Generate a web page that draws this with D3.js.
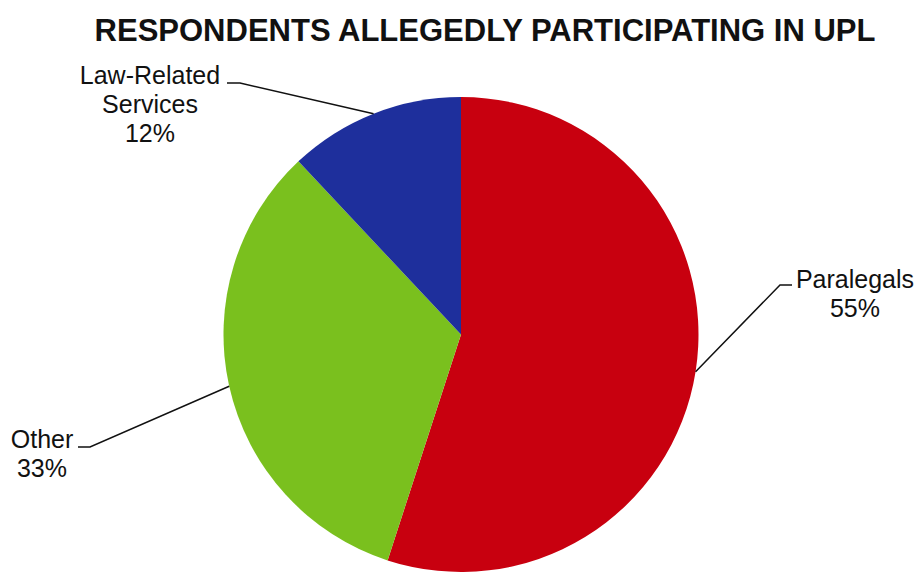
<!DOCTYPE html>
<html>
<head>
<meta charset="utf-8">
<script src="https://cdn.jsdelivr.net/npm/d3@7"></script>
<style>
  body { margin: 0; background: #fff; }
  text { font-family: Arial, "Liberation Sans", sans-serif; fill: #111; }
</style>
</head>
<body>
<svg id="chart" width="919" height="574"></svg>
<script>
// slice data, clockwise from 12 o'clock
const categories = ['Paralegals', 'Other', 'Law-Related Services'];
const values = [55, 33, 12];
const colors = ['#C8000F', '#7AC01E', '#1E2F9C'];
// label lines (text split by line)
const labelLines = [['Paralegals', '55%'], ['Other', '33%'], ['Law-Related', 'Services', '12%']];

const svg = d3.select('#chart');
const cx = 461, cy = 334.5, radius = 237.5;

svg.append('text')
    .attr('x', 485)
    .attr('y', 41)
    .attr('text-anchor', 'middle')
    .style('font-weight', 'bold')
    .style('font-size', '31px')
    .text('RESPONDENTS ALLEGEDLY PARTICIPATING IN UPL');

const data = categories.map(function(c, i) { return {name: c, value: values[i], lines: labelLines[i]}; });

const pie = d3.pie().sort(null).value(function(d) { return d.value; });
const arc = d3.arc().innerRadius(0).outerRadius(radius);

const g = svg.append('g').attr('transform', 'translate(' + cx + ',' + cy + ')');

const arcs = pie(data);

g.selectAll('path')
    .data(arcs)
    .enter().append('path')
    .attr('d', arc)
    .attr('fill', function(d, i) { return colors[i]; });

// label placement: text anchor point and elbow of leader line
const labelPos = [
    {tx: 855, ty: 288, elbow: [780, 285], end: [792, 285]},
    {tx: 42, ty: 448, elbow: [90, 447], end: [78, 447]},
    {tx: 150, ty: 84, elbow: [240, 83], end: [227, 83]}
];

arcs.forEach(function(d, i) {
    const mid = (d.startAngle + d.endAngle) / 2;
    const px = cx + radius * Math.sin(mid);
    const py = cy - radius * Math.cos(mid);
    const p = labelPos[i];

    svg.append('polyline')
        .attr('points', [[px, py], p.elbow, p.end].map(function(q) { return q.join(','); }).join(' '))
        .attr('fill', 'none')
        .attr('stroke', '#111')
        .attr('stroke-width', 1.5);

    const t = svg.append('text')
        .attr('text-anchor', 'middle')
        .style('font-size', '25px');
    d.data.lines.forEach(function(line, k) {
        t.append('tspan')
            .attr('x', p.tx)
            .attr('y', p.ty + k * 29)
            .text(line);
    });
});
</script>
</body>
</html>
